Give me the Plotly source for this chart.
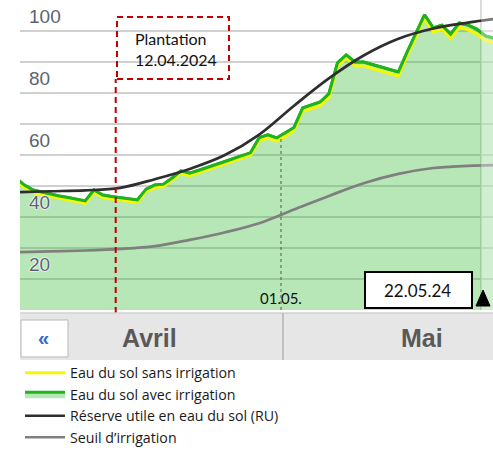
import plotly.graph_objects as go
import pandas as pd

# ---- data -------------------------------------------------------------
# daily soil-water values (%), from 31.03.2024 to 25.05.2024 (points at noon)
day_dates = pd.date_range("2024-03-31 12:00", periods=56, freq="D")
avec_irrigation = [42.6, 40.3, 38.7, 38.0, 37.4, 36.8, 36.3, 35.8, 35.2, 38.7,
                   37.1, 36.6, 36.3, 36.0, 35.5, 39.0, 40.3, 40.6, 42.6, 44.9,
                   44.1, 45.0, 45.9, 46.9, 47.8, 48.8, 49.8, 50.7, 55.6, 56.5,
                   55.5, 57.1, 58.9, 65.2, 66.1, 67.1, 69.7, 79.7, 82.3, 80.0,
                   80.0, 79.2, 78.4, 77.6, 76.8, 83.2, 89.4, 95.2, 91.0, 91.9,
                   89.0, 92.6, 91.9, 90.6, 88.4, 87.7]
sans_irrigation = [41.8, 39.5, 37.9, 37.2, 36.6, 36.0, 35.5, 35.0, 34.4, 37.9,
                   36.3, 35.8, 35.5, 35.2, 34.7, 38.2, 39.5, 39.8, 41.8, 44.0,
                   43.3, 44.2, 45.1, 46.1, 47.0, 48.0, 49.0, 49.9, 54.6, 55.5,
                   54.5, 56.0, 57.9, 64.1, 65.0, 66.0, 68.5, 78.5, 81.3, 78.7,
                   78.7, 77.9, 77.1, 76.3, 75.5, 82.0, 88.2, 94.0, 89.7, 90.5,
                   87.6, 91.2, 90.4, 89.1, 86.9, 86.2]

curve_dates = pd.date_range("2024-03-31 12:00", periods=15, freq="4D")
reserve_utile = [38.0, 38.3, 38.6, 39.4, 42.2, 45.5, 49.9, 56.6, 65.9, 74.7,
                 82.1, 87.5, 90.8, 92.7, 94.2]
seuil_irrigation = [18.6, 18.9, 19.2, 19.7, 20.6, 22.6, 25.0, 28.0, 32.4, 36.8,
                    40.9, 43.9, 45.8, 46.5, 46.8]

y_tick_values = [0, 10, 20, 30, 40, 50, 60, 70, 80, 90, 100]
y_tick_labels = ["", "", "20", "", "40", "", "60", "", "80", "", "100"]

plantation_date = "2024-04-12"
mai_date = "2024-05-01"
today_date = "2024-05-24"
months = ["Avril", "Mai"]

legend_names = ["Eau du sol sans irrigation", "Eau du sol avec irrigation",
                "Réserve utile en eau du sol (RU)", "Seuil d\u2019irrigation"]

# ---- figure -----------------------------------------------------------
FILL = "rgba(60,190,60,0.37)"
GREEN = "#1fb41f"
YELLOW = "#f7f700"
LEG_FONT = dict(family="Open Sans", size=14.2, color="#1a1a1a")

fig = go.Figure()
fig.add_trace(go.Scatter(x=day_dates, y=avec_irrigation, mode="lines", fill="tozeroy",
                         fillcolor=FILL, line=dict(color=GREEN, width=3),
                         name=legend_names[1], legendrank=2, hoverinfo="skip"))
fig.add_trace(go.Scatter(x=day_dates, y=sans_irrigation, mode="lines",
                         line=dict(color=YELLOW, width=3),
                         name=legend_names[0], legendrank=1))
fig.add_trace(go.Scatter(x=day_dates, y=avec_irrigation, mode="lines",
                         line=dict(color=GREEN, width=3), showlegend=False))
fig.add_trace(go.Scatter(x=curve_dates, y=reserve_utile, mode="lines",
                         line=dict(color="#2e2e2e", width=2.7, shape="spline"),
                         name=legend_names[2], legendrank=3))
fig.add_trace(go.Scatter(x=curve_dates, y=seuil_irrigation, mode="lines",
                         line=dict(color="#7f7f7f", width=2.7, shape="spline"),
                         name=legend_names[3], legendrank=4))

shapes = [
    # forecast area, lighter
    dict(type="rect", xref="x", yref="paper", x0=today_date, x1="2024-05-28",
         y0=0, y1=1, fillcolor="white", opacity=0.35, line=dict(width=0), layer="above"),
    dict(type="line", xref="x", yref="paper", x0=today_date, x1=today_date,
         y0=0, y1=1, line=dict(color="#c8c8c8", width=1.5), layer="below"),
    # 01.05 dotted marker
    dict(type="line", xref="x", yref="y", x0=mai_date, x1=mai_date, y0=0, y1=56,
         line=dict(color="#555555", width=1, dash="dot"), layer="above"),
    # plantation marker
    dict(type="line", xref="x", yref="paper", x0=plantation_date, x1=plantation_date,
         y0=-0.01, y1=0.745, line=dict(color="#c00000", width=2, dash="6px,4px"),
         layer="above"),
    dict(type="rect", xref="paper", yref="paper", x0=0.2051, x1=0.4419, y0=0.745, y1=0.945,
         line=dict(color="#c00000", width=2, dash="6px,4px"), fillcolor="rgba(0,0,0,0)"),
    # date box + triangle
    dict(type="rect", xref="paper", yref="paper", x0=0.7294, x1=0.9556, y0=0.0065, y1=0.1226,
         line=dict(color="black", width=2), fillcolor="white", layer="above"),
    dict(type="path", xref="paper", yref="paper",
         path="M 0.964,0.0129 L 0.9937,0.0129 L 0.9789,0.0645 Z",
         fillcolor="black", line=dict(color="black", width=1), layer="above"),
    # month bar
    dict(type="rect", xref="paper", yref="paper", x0=0, x1=1.02, y0=-0.1613, y1=-0.0097,
         fillcolor="#e6e6e6", line=dict(width=0)),
    dict(type="line", xref="paper", yref="paper", x0=0, x1=1.02, y0=-0.0097, y1=-0.0097,
         line=dict(color="#d2d2d2", width=1.5)),
    dict(type="line", xref="paper", yref="paper", x0=0.556, x1=0.556, y0=-0.1613, y1=-0.0097,
         line=dict(color="#b5b5b5", width=1.5)),
    dict(type="rect", xref="paper", yref="paper", x0=0.0021, x1=0.1015, y0=-0.1516, y1=-0.0323,
         fillcolor="white", line=dict(color="#b8b8b8", width=1)),
]

def note(x, y, text, font, **kw):
    d = dict(xref="paper", yref="paper", x=x, y=y, text=text, showarrow=False,
             xanchor="center", yanchor="middle", font=font)
    d.update(kw)
    return d

annotations = [
    note(0.2389, 0.842, "Plantation<br>12.04.2024",
         dict(family="Lato", size=16, color="#111111"), xanchor="left", align="left"),
    note(0.5518, 0.0387, "01.05.", dict(family="Lato", size=15, color="#111111")),
    note(0.8414, 0.0645, "22.05.24", dict(family="Lato", size=17, color="#111111")),
    note(0.0507, -0.0903, "<b>\u00ab</b>", dict(family="Liberation Sans", size=20, color="#3569c9")),
    note(0.2748, -0.0903, "<b>" + months[0] + "</b>",
         dict(family="Liberation Sans", size=25, color="#595959")),
    note(0.85, -0.0903, "<b>" + months[1] + "</b>",
         dict(family="Liberation Sans", size=25, color="#595959")),
]

fig.update_layout(
    width=493, height=450,
    margin=dict(l=20, r=0, t=0, b=140, autoexpand=False),
    plot_bgcolor="white", paper_bgcolor="white",
    shapes=shapes, annotations=annotations,
    showlegend=True,
    legend=dict(x=0.0, y=-0.152, xanchor="left", yanchor="top",
                font=LEG_FONT, bgcolor="rgba(0,0,0,0)", itemwidth=40,
                tracegroupgap=0, traceorder="normal"),
    xaxis=dict(type="date", range=["2024-04-01 00:00", "2024-05-25 08:53"],
               showgrid=False, showticklabels=False, zeroline=False, showline=False,
               ticks=""),
    yaxis=dict(range=[0, 100], tickmode="array", tickvals=y_tick_values,
               ticktext=y_tick_labels, showgrid=True, gridcolor="#d0d0d0", gridwidth=1.5,
               zeroline=False, showline=False, ticks="",
               ticklabelposition="inside", ticklabeloverflow="allow",
               ticklabelshift=16, ticklabelstandoff=6,
               tickfont=dict(family="Liberation Sans", size=19, color="#5b6470",
                             shadow="0 0 2px white, 0 0 2px white, 0 0 1px white")),
)

fig.write_html("out.html", config={"displayModeBar": False},
               post_script="document.body.style.margin='0px';")
